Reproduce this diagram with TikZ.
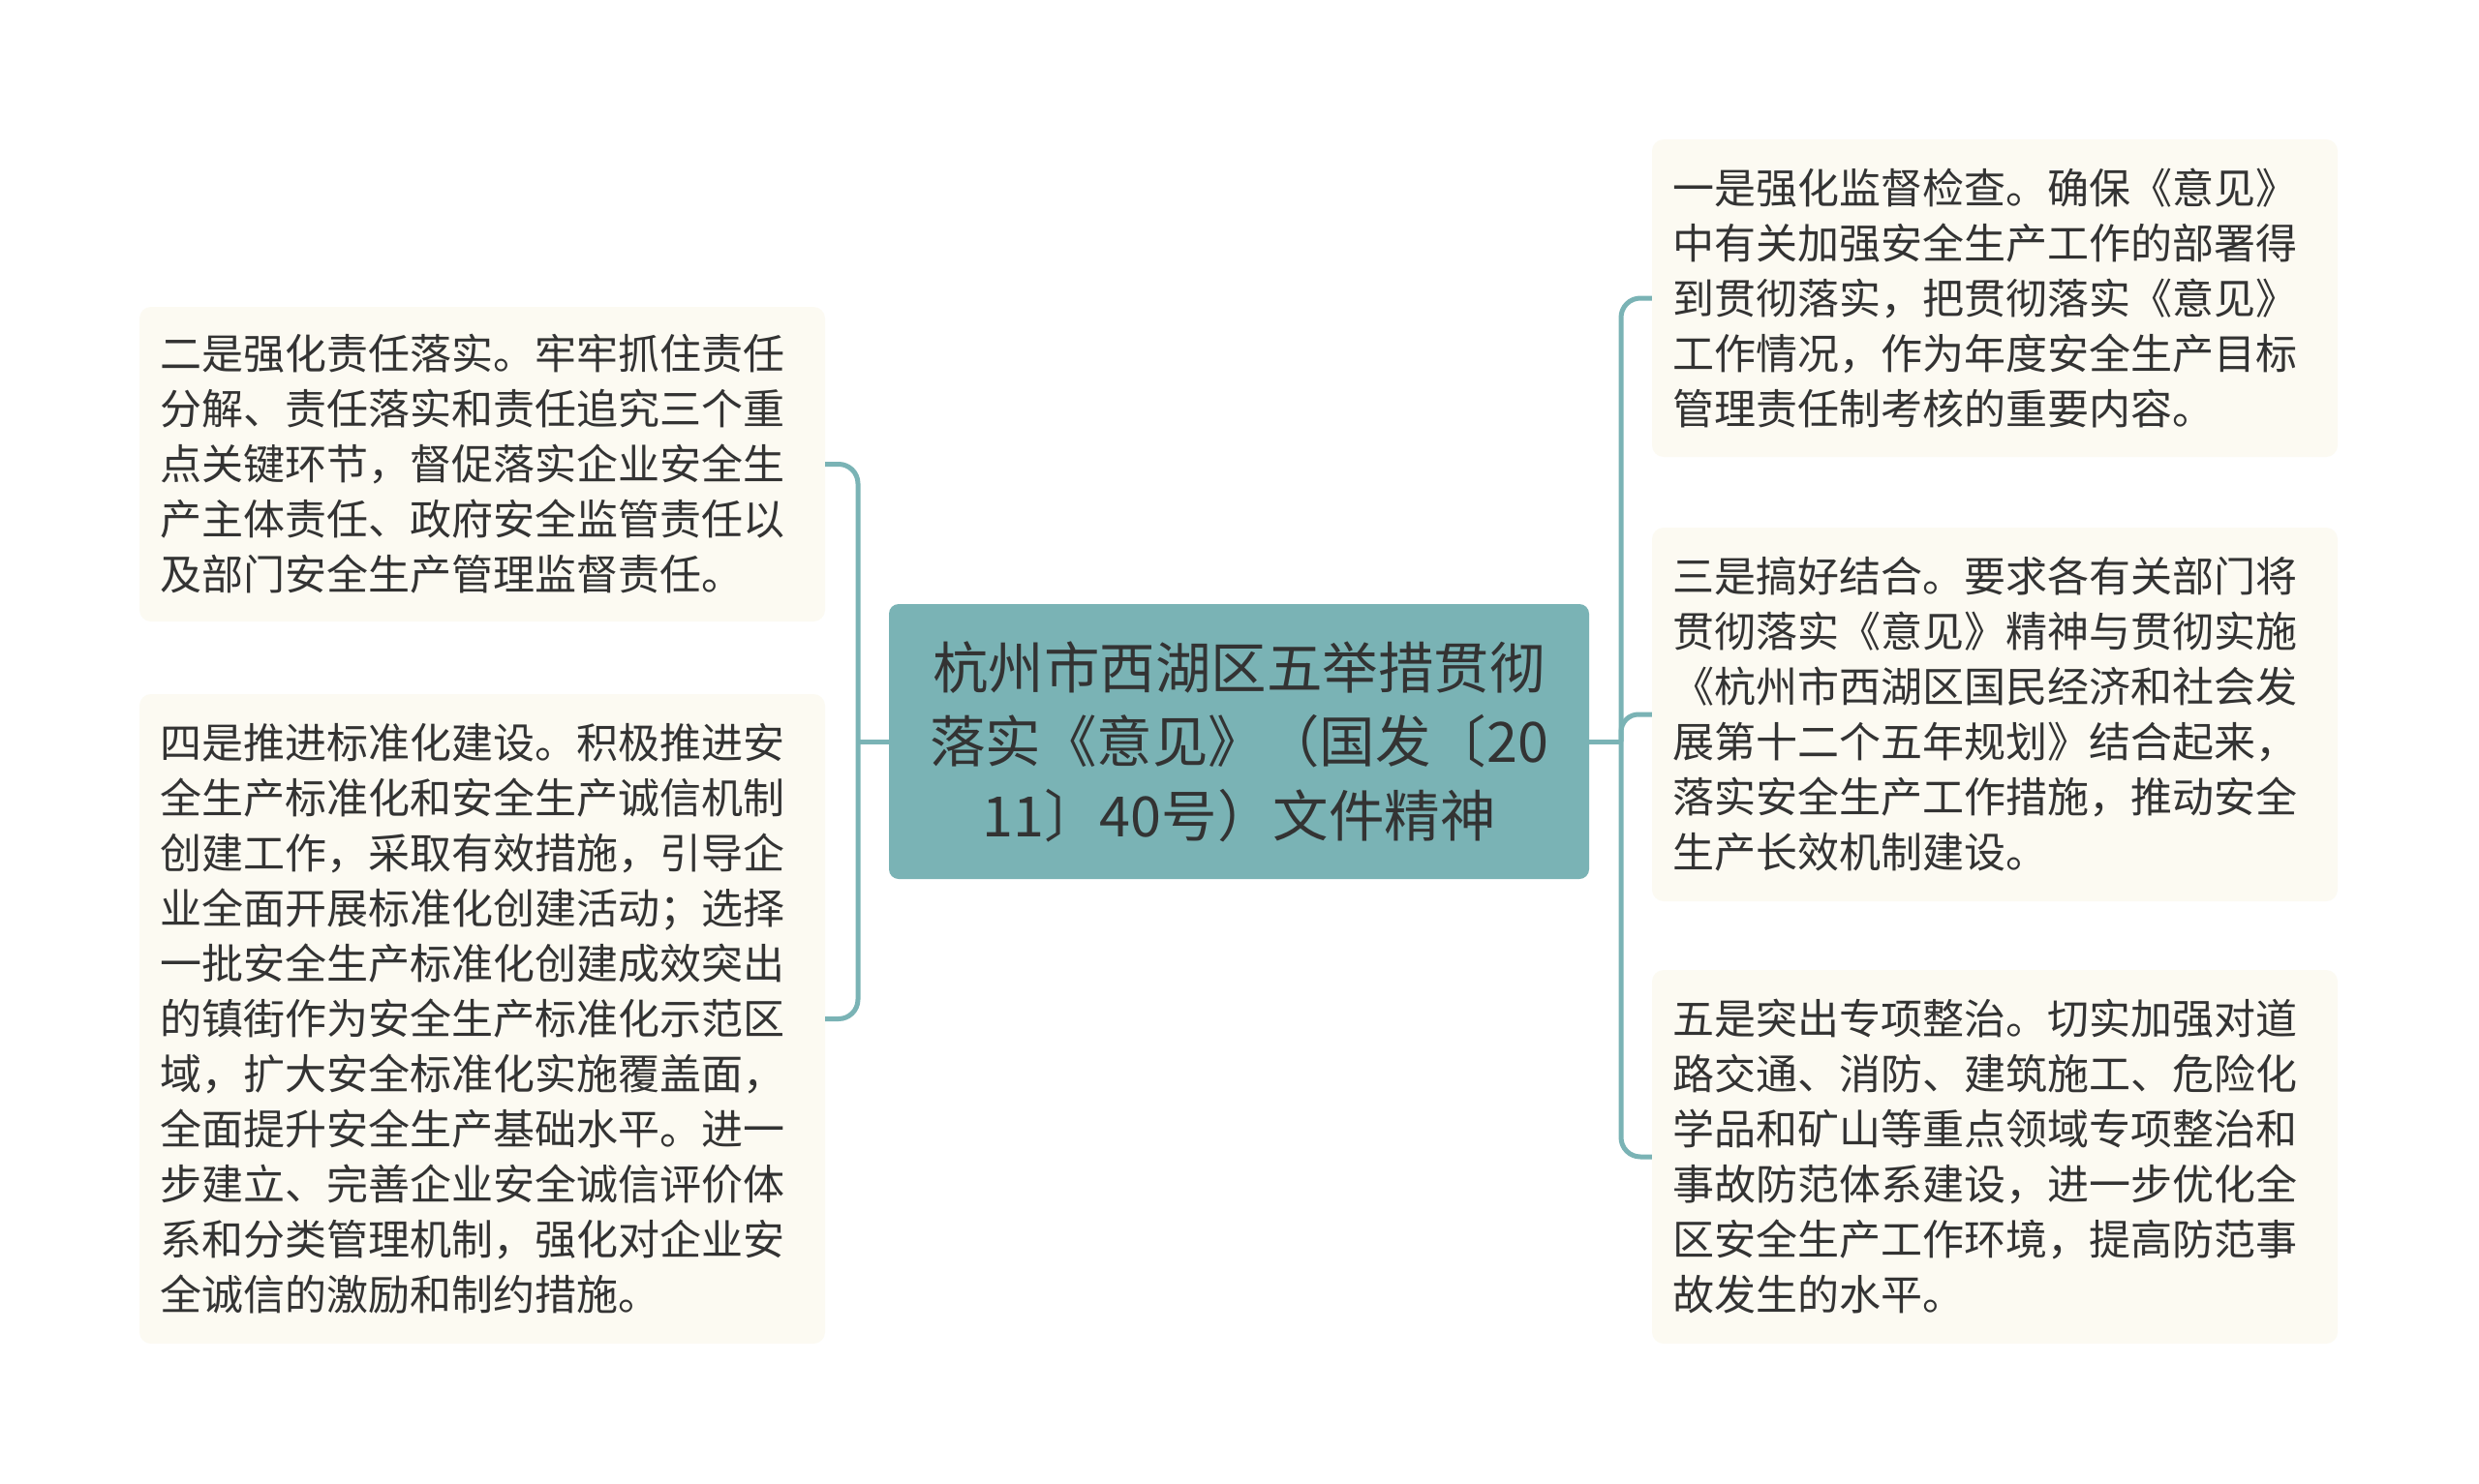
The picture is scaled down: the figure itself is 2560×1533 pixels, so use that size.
\documentclass[tikz,border=0pt]{standalone}
\usepackage{fontspec}
\newfontfamily\cjk{Noto Sans CJK SC}
\definecolor{teal1}{HTML}{7AB3B5}
\definecolor{cream}{HTML}{FCFAF2}
\definecolor{txt}{HTML}{333333}
\begin{document}
\begin{tikzpicture}[x=1pt,y=-1pt,
  conn/.style={draw=teal1,line width=5pt},
  leaf/.style={fill=cream,rounded corners=12pt,text=txt,align=left,
    text width=666pt,inner xsep=21pt,inner ysep=0pt,
    font=\cjk\fontsize{43}{57}\selectfont},
  root/.style={fill=teal1,rounded corners=10pt,text=txt,align=center,
    minimum width=723pt,minimum height=284pt,inner sep=0pt,
    font=\cjk\fontsize{57.5}{76.5}\selectfont}]
\useasboundingbox (0,0) rectangle (2560,1533);
\fill[white] (0,0) rectangle (2560,1533);

\node[root] (c) at (1279.5,766) {杭州市西湖区五举措贯彻\\落实《意见》（国发〔20\\11〕40号）文件精神};

\node[leaf,minimum height=325pt] (l1) at (498,479.5) {二是强化责任落实。牢牢抓住责任\\分解、责任落实和责任追究三个重\\点关键环节，督促落实企业安全生\\产主体责任、政府安全监管责任以\\及部门安全生产管理监督责任。};
\node[leaf,minimum height=671pt] (l2) at (498,1052.5) {四是推进标准化建设。积极推进安\\全生产标准化和安全生产诚信机制\\创建工作，采取有效措施，引导企\\业全面开展标准化创建活动；选择\\一批安全生产标准化创建成效突出\\的镇街作为安全生产标准化示范区\\域，扩大安全标准化实施覆盖面，\\全面提升安全生产基础水平。进一\\步建立、完善企业安全诚信评价体\\系和分类管理机制，强化对企业安\\全诚信的激励和制约措施。};

\node[leaf,minimum height=328pt] (r1) at (2060,308) {一是强化监督检查。确保《意见》\\中有关加强安全生产工作的部署得\\到贯彻落实，把贯彻落实《意见》\\工作情况，作为年度安全生产目标\\管理责任制考核的重要内容。};
\node[leaf,minimum height=386pt] (r2) at (2060,738) {三是搞好结合。要求各有关部门将\\贯彻落实《意见》精神与贯彻实施\\《杭州市西湖区国民经济和社会发\\展第十二个五年规划》结合起来，\\落实安全生产工作措施，推动安全\\生产长效机制建设。};
\node[leaf,minimum height=386pt] (r3) at (2060,1195) {五是突出专项整治。切实加强对道\\路交通、消防、建筑施工、危险化\\学品和矿山等重点领域专项整治和\\事故防范体系建设，进一步优化全\\区安全生产工作环境，提高防范事\\故发生的水平。};

\coordinate (lj) at (886,766);
\coordinate (rj) at (1674,766);

\draw[conn] (c.west) -- (lj);
\draw[conn,rounded corners=20pt] (l1.east) -| (lj) |- (l2.east);
\draw[conn] (c.east) -- (rj);
\draw[conn,rounded corners=20pt] (r1.west) -| (rj) |- (r3.west);
\draw[conn,rounded corners=18pt] (rj) |- (r2.west);
\end{tikzpicture}
\end{document}
